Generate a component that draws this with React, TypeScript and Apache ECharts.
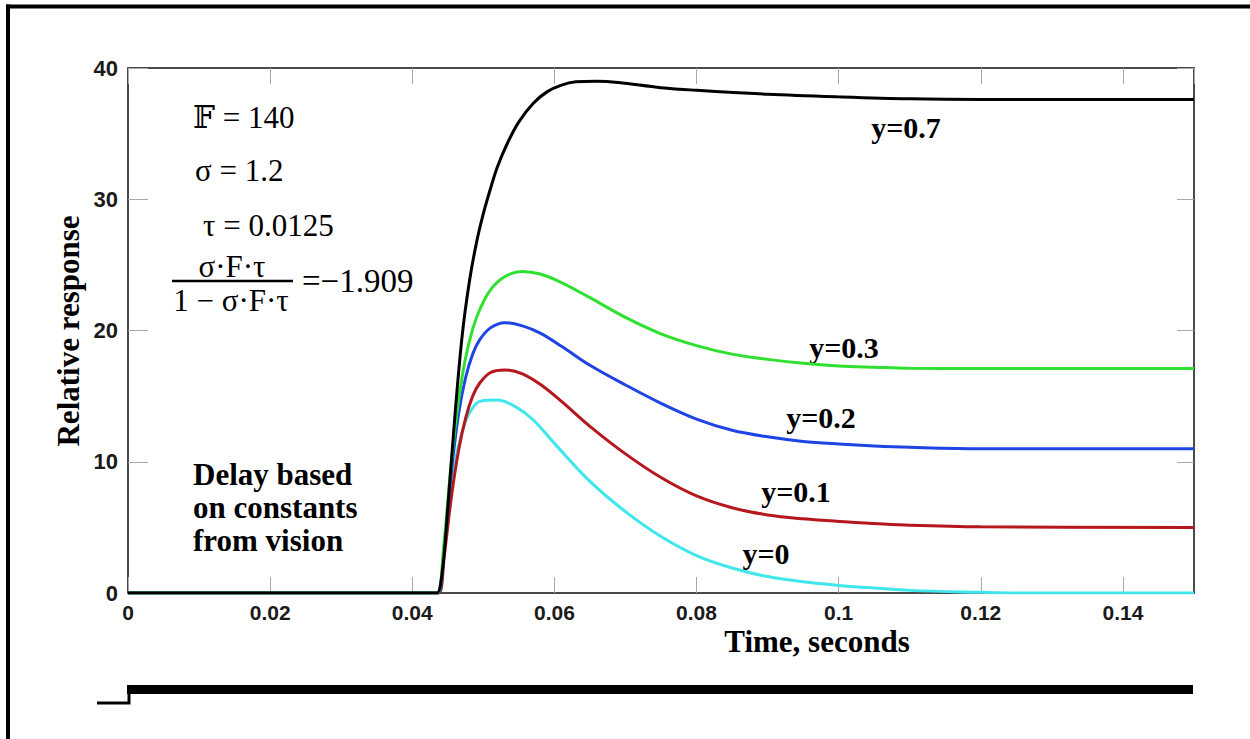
import React, { useEffect, useRef } from "react";
import * as echarts from "echarts";

// Time (s) and response samples for each curve
const tY0 = [0, 0.043, 0.0437, 0.0445, 0.0455, 0.0465, 0.0475, 0.0485, 0.0495, 0.052, 0.0545, 0.057, 0.06, 0.065, 0.07, 0.075, 0.08, 0.085, 0.09, 0.095, 0.1, 0.105, 0.11, 0.12, 0.125, 0.15];
const vY0 = [0, 0, 0, 3.2, 8.0, 11.2, 13.1, 14.1, 14.6, 14.7, 14.2, 13.2, 11.4, 8.5, 6.2, 4.3, 2.85, 1.9, 1.25, 0.85, 0.58, 0.38, 0.2, 0.05, 0, 0];

const tY01 = [0, 0.043, 0.0438, 0.0445, 0.0455, 0.0465, 0.0475, 0.0485, 0.0495, 0.051, 0.053, 0.0555, 0.058, 0.061, 0.065, 0.07, 0.075, 0.08, 0.085, 0.09, 0.095, 0.1, 0.105, 0.11, 0.12, 0.15];
const vY01 = [0, 0, 0, 2.8, 7.3, 10.8, 13.3, 15.0, 16.0, 16.8, 17.0, 16.7, 15.9, 14.6, 12.7, 10.6, 8.8, 7.4, 6.5, 5.95, 5.65, 5.45, 5.3, 5.17, 5.05, 5.0];

const tY02 = [0, 0.043, 0.0437, 0.0445, 0.0455, 0.0465, 0.0475, 0.0485, 0.0495, 0.051, 0.053, 0.0555, 0.058, 0.061, 0.065, 0.07, 0.075, 0.08, 0.085, 0.09, 0.095, 0.1, 0.105, 0.11, 0.12, 0.15];
const vY02 = [0, 0, 0, 3.5, 9.2, 13.6, 16.4, 18.2, 19.3, 20.2, 20.6, 20.35, 19.8, 18.8, 17.35, 15.85, 14.45, 13.25, 12.4, 11.9, 11.55, 11.35, 11.2, 11.1, 11.0, 11.0];

const tY03 = [0, 0.043, 0.0436, 0.0445, 0.0455, 0.0465, 0.0475, 0.0485, 0.0495, 0.051, 0.053, 0.0555, 0.058, 0.061, 0.065, 0.07, 0.075, 0.08, 0.085, 0.09, 0.095, 0.1, 0.105, 0.11, 0.12, 0.15];
const vY03 = [0, 0, 0, 4.0, 10.0, 14.6, 17.9, 20.1, 21.6, 23.1, 24.1, 24.5, 24.3, 23.65, 22.5, 21.0, 19.75, 18.85, 18.2, 17.8, 17.5, 17.3, 17.2, 17.12, 17.1, 17.1];

const tY07 = [0, 0.043, 0.0435, 0.0442, 0.045, 0.046, 0.047, 0.048, 0.049, 0.05, 0.051, 0.052, 0.0535, 0.055, 0.057, 0.059, 0.061, 0.063, 0.066, 0.069, 0.075, 0.08, 0.09, 0.1, 0.11, 0.12, 0.15];
const vY07 = [0, 0, 0, 1.5, 6.5, 13.5, 19.5, 23.6, 26.6, 28.9, 30.8, 32.5, 34.4, 35.9, 37.3, 38.2, 38.7, 38.95, 39.0, 38.9, 38.5, 38.3, 38.0, 37.8, 37.65, 37.6, 37.6];

const curveNames = ["y=0", "y=0.1", "y=0.2", "y=0.3", "y=0.7"];
const curveTimes = [tY0, tY01, tY02, tY03, tY07];
const curveValues = [vY0, vY01, vY02, vY03, vY07];
const curveColors = ["#3fe6ec", "#b5171c", "#1f44e4", "#30e030", "#000000"];

const xTicks = { min: 0, max: 0.15, step: 0.02 };
const yTicks = { min: 0, max: 40, step: 10 };

const serifBold = "'Liberation Serif', 'Times New Roman', serif";
const serif = "'Liberation Serif', 'DejaVu Serif', serif";
const sansBold = "'Liberation Sans', Arial, sans-serif";

export default function App() {
  const ref = useRef<HTMLDivElement>(null);

  useEffect(() => {
    if (!ref.current) return;
    const chart = echarts.init(ref.current, null, { renderer: "svg" });

    const frameLine = { show: true, onZero: false, lineStyle: { color: "#4a4a4a", width: 2 } };
    const tickStyle = { color: "#a8a8a8", width: 1 };
    const labelStyle = {
      fontFamily: sansBold,
      fontWeight: "bold" as const,
      fontSize: 21,
      color: "#1a1a1a",
    };

    const series = curveNames.map((name, i) => ({
      name,
      type: "line" as const,
      data: curveTimes[i].map((t, k) => [t, curveValues[i][k]]),
      showSymbol: false,
      smooth: 0.35,
      lineStyle: { color: curveColors[i], width: 3 },
      z: 2 + i,
    }));

    const boldText = (text: string, x: number, y: number, size = 30, extra: any = {}) => ({
      type: "text",
      x,
      y,
      ...extra,
      style: {
        text,
        fontFamily: serifBold,
        fontWeight: "bold",
        fontSize: size,
        fill: "#000",
        align: "center",
        verticalAlign: "middle",
      },
    });

    const mathText = (text: string, x: number, y: number, align = "left", size = 31) => ({
      type: "text",
      x,
      y,
      style: {
        text,
        fontFamily: serif,
        fontSize: size,
        fill: "#000",
        align,
        verticalAlign: "middle",
      },
    });

    chart.setOption({
      animation: false,
      backgroundColor: "#ffffff",
      grid: { left: 128, right: 56, top: 68, bottom: 146 },
      xAxis: [
        {
          type: "value",
          position: "bottom",
          min: xTicks.min,
          max: xTicks.max,
          interval: xTicks.step,
          axisLine: frameLine,
          axisTick: { inside: true, length: 16, lineStyle: tickStyle },
          axisLabel: {
            ...labelStyle,
            margin: 9,
            showMaxLabel: false,
            formatter: (v: number) => String(+v.toFixed(2)),
          },
          splitLine: { show: false },
        },
        {
          type: "value",
          position: "top",
          min: xTicks.min,
          max: xTicks.max,
          interval: xTicks.step,
          axisLine: frameLine,
          axisTick: { inside: true, length: 16, lineStyle: tickStyle },
          axisLabel: { show: false },
          splitLine: { show: false },
        },
      ],
      yAxis: [
        {
          type: "value",
          position: "left",
          min: yTicks.min,
          max: yTicks.max,
          interval: yTicks.step,
          axisLine: frameLine,
          axisTick: { inside: true, length: 20, lineStyle: tickStyle },
          axisLabel: { ...labelStyle, fontSize: 22, margin: 10 },
          splitLine: { show: false },
        },
        {
          type: "value",
          position: "right",
          min: yTicks.min,
          max: yTicks.max,
          interval: yTicks.step,
          axisLine: frameLine,
          axisTick: { inside: true, length: 17, lineStyle: tickStyle },
          axisLabel: { show: false },
          splitLine: { show: false },
        },
      ],
      series,
      graphic: [
        // page frame (left and top edges)
        { type: "line", shape: { x1: 8, y1: 4.5, x2: 8, y2: 739 }, style: { stroke: "#000", lineWidth: 4 } },
        { type: "line", shape: { x1: 6, y1: 6.5, x2: 1250, y2: 6.5 }, style: { stroke: "#000", lineWidth: 4 } },
        // axis titles
        boldText("Time, seconds", 817, 641, 31),
        boldText("Relative response", 68, 331, 31, { rotation: Math.PI / 2 }),
        // curve labels
        boldText("y=0.7", 906, 127),
        boldText("y=0.3", 844, 347),
        boldText("y=0.2", 821, 417),
        boldText("y=0.1", 796, 491),
        boldText("y=0", 766, 553),
        // constants
        mathText("\u{1D53D} = 140", 193, 117),
        mathText("\u03C3 = 1.2", 195, 170),
        mathText("\u03C4 = 0.0125", 203, 225),
        mathText("\u03C3\u00B7F\u00B7\u03C4", 232, 266, "center"),
        { type: "line", shape: { x1: 172, y1: 281, x2: 293, y2: 281 }, style: { stroke: "#000", lineWidth: 2.5 } },
        mathText("1 \u2212 \u03C3\u00B7F\u00B7\u03C4", 231, 300, "center"),
        mathText("=\u22121.909", 302, 281, "left", 33),
        // note
        {
          type: "text",
          x: 193,
          y: 507,
          style: {
            text: "Delay based\non constants\nfrom vision",
            fontFamily: serifBold,
            fontWeight: "bold",
            fontSize: 31,
            lineHeight: 33,
            fill: "#000",
            align: "left",
            verticalAlign: "middle",
          },
        },
        // input step
        {
          type: "polyline",
          shape: { points: [[97, 703], [129, 703], [129, 688]] },
          style: { stroke: "#000", lineWidth: 3, fill: null },
        },
        { type: "rect", shape: { x: 127, y: 685, width: 1066, height: 9 }, style: { fill: "#000" } },
      ],
    });

    return () => chart.dispose();
  }, []);

  return (
    <div
      ref={ref}
      style={{ position: "fixed", left: 0, top: 0, width: 1250, height: 739, background: "#fff" }}
    />
  );
}
